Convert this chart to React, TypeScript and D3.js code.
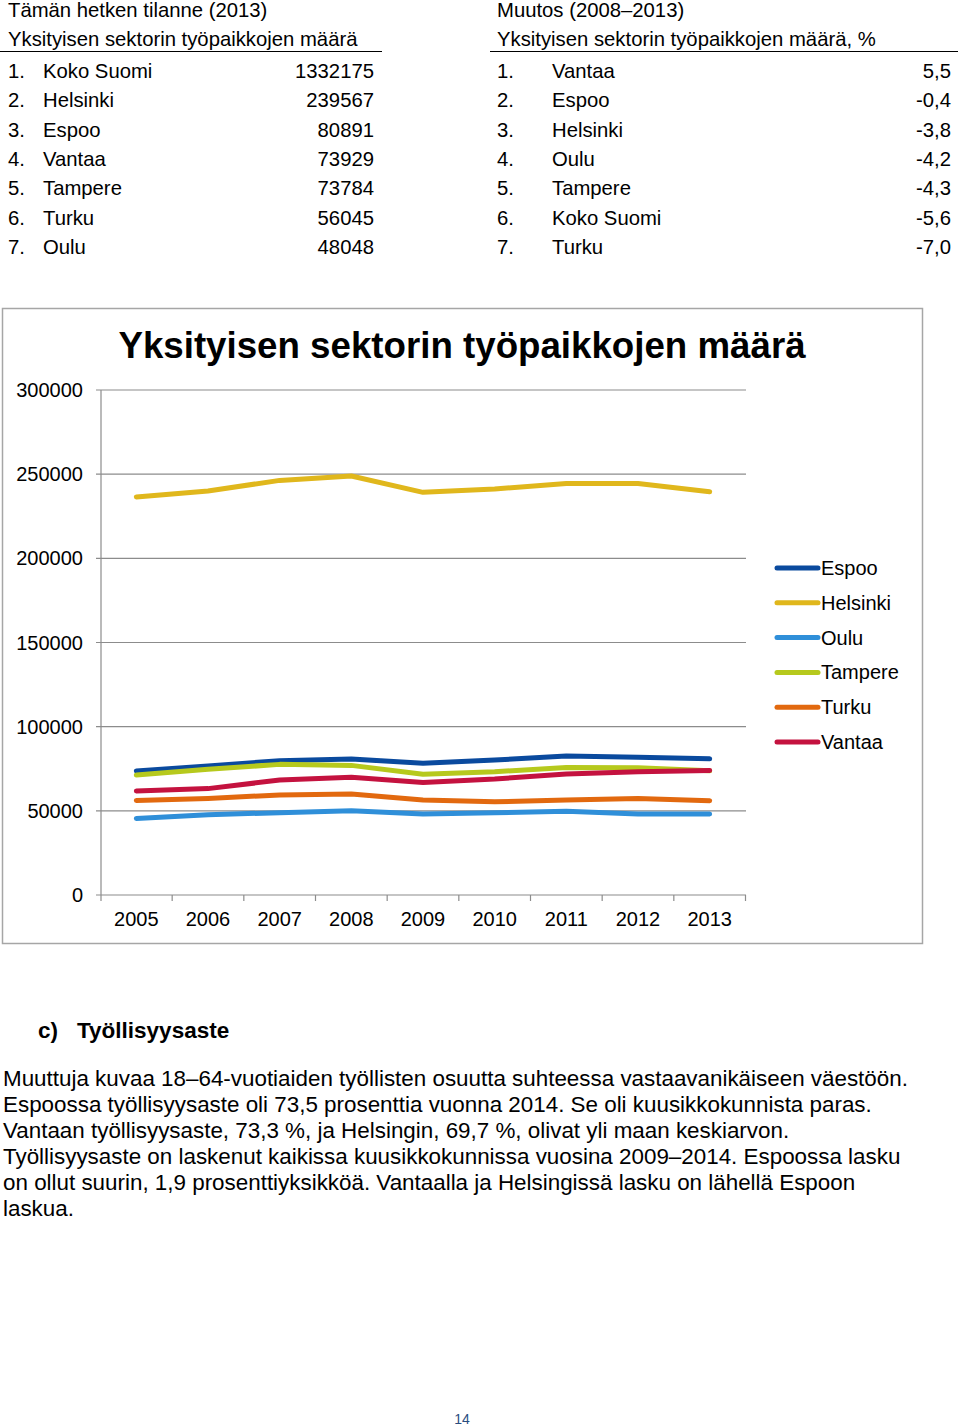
import React from "react";
import * as d3 from "d3";

// Top tables
const leftRank = ["Koko Suomi", "Helsinki", "Espoo", "Vantaa", "Tampere", "Turku", "Oulu"];
const leftValues = ["1332175", "239567", "80891", "73929", "73784", "56045", "48048"];
const rightRank = ["Vantaa", "Espoo", "Helsinki", "Oulu", "Tampere", "Koko Suomi", "Turku"];
const rightValues = ["5,5", "-0,4", "-3,8", "-4,2", "-4,3", "-5,6", "-7,0"];

// Chart data
const years = ["2005", "2006", "2007", "2008", "2009", "2010", "2011", "2012", "2013"];
const espoo = [73700, 76600, 79800, 80800, 78200, 80200, 82600, 81800, 80891];
const helsinki = [236500, 240000, 246300, 248900, 239200, 241200, 244500, 244500, 239567];
const oulu = [45500, 47700, 48900, 50100, 48100, 48900, 49700, 48100, 48048];
const tampere = [71300, 74700, 77600, 77000, 71700, 73200, 75800, 75600, 73784];
const turku = [56200, 57400, 59400, 60000, 56400, 55400, 56400, 57400, 56045];
const vantaa = [61800, 63200, 68300, 69900, 66900, 68900, 71900, 73200, 73929];
const yTicks = [0, 50000, 100000, 150000, 200000, 250000, 300000];

const series = [
  { name: "Espoo", values: espoo, color: "#0a4a9e" },
  { name: "Helsinki", values: helsinki, color: "#e0b71c" },
  { name: "Oulu", values: oulu, color: "#2f8fd9" },
  { name: "Tampere", values: tampere, color: "#b6c91d" },
  { name: "Turku", values: turku, color: "#e2690f" },
  { name: "Vantaa", values: vantaa, color: "#c4123f" },
];

const paragraph = [
  "Muuttuja kuvaa 18–64-vuotiaiden työllisten osuutta suhteessa vastaavanikäiseen väestöön.",
  "Espoossa työllisyysaste oli 73,5 prosenttia vuonna 2014. Se oli kuusikkokunnista paras.",
  "Vantaan työllisyysaste, 73,3 %, ja Helsingin, 69,7 %, olivat yli maan keskiarvon.",
  "Työllisyysaste on laskenut kaikissa kuusikkokunnissa vuosina 2009–2014. Espoossa lasku",
  "on ollut suurin, 1,9 prosenttiyksikköä. Vantaalla ja Helsingissä lasku on lähellä Espoon",
  "laskua.",
];

const FONT = "'Liberation Sans', Arial, sans-serif";

const App: React.FC = () => {
  const plot = { left: 101, right: 746, top: 390, bottom: 895 };
  const x = d3.scaleBand().domain(years).range([plot.left - 0.5, plot.right - 0.5]);
  const y = d3.scaleLinear().domain([0, 300000]).range([plot.bottom, plot.top]);
  const line = d3
    .line<number>()
    .x((_, i) => (x(years[i]) as number) + x.bandwidth() / 2)
    .y((d) => y(d));

  const rowY = (i: number) => 78 + i * 29.3;

  return (
    <svg
      width={960}
      height={1427}
      style={{ position: "absolute", left: 0, top: 0, background: "#fff" }}
      fontFamily={FONT}
    >
      <rect width={960} height={1427} fill="#fff" />

      {/* Left table */}
      <g fontSize={20.3} fill="#000">
        <text x={8} y={17}>Tämän hetken tilanne (2013)</text>
        <text x={8} y={46}>Yksityisen sektorin työpaikkojen määrä</text>
        <line x1={0} x2={382} y1={51.5} y2={51.5} stroke="#000" strokeWidth={1.2} />
        {leftRank.map((n, i) => (
          <g key={n}>
            <text x={8} y={rowY(i)}>{i + 1}.</text>
            <text x={43} y={rowY(i)}>{n}</text>
            <text x={374} y={rowY(i)} textAnchor="end">{leftValues[i]}</text>
          </g>
        ))}
      </g>

      {/* Right table */}
      <g fontSize={20.3} fill="#000">
        <text x={497} y={17}>Muutos (2008–2013)</text>
        <text x={497} y={46}>Yksityisen sektorin työpaikkojen määrä, %</text>
        <line x1={490} x2={958} y1={51.5} y2={51.5} stroke="#000" strokeWidth={1.2} />
        {rightRank.map((n, i) => (
          <g key={n}>
            <text x={497} y={rowY(i)}>{i + 1}.</text>
            <text x={552} y={rowY(i)}>{n}</text>
            <text x={951} y={rowY(i)} textAnchor="end">{rightValues[i]}</text>
          </g>
        ))}
      </g>

      {/* Chart box */}
      <rect x={2.5} y={308.5} width={920} height={635} fill="#fff" stroke="#a6a6a6" strokeWidth={1.5} />
      <text x={462} y={358} textAnchor="middle" fontSize={36.7} fontWeight="bold">
        Yksityisen sektorin työpaikkojen määrä
      </text>

      {/* Gridlines and y axis */}
      {yTicks.map((t) => (
        <g key={t}>
          <line x1={96} x2={plot.right} y1={y(t)} y2={y(t)} stroke="#8c8c8c" strokeWidth={1.2} />
          <text x={83} y={y(t) + 7} textAnchor="end" fontSize={20}>
            {t}
          </text>
        </g>
      ))}
      <line x1={plot.left} x2={plot.left} y1={plot.top} y2={plot.bottom + 6} stroke="#8c8c8c" strokeWidth={1.2} />

      {/* x axis ticks and labels */}
      {years.map((yr) => (
        <line
          key={"t" + yr}
          x1={(x(yr) as number) + x.bandwidth()}
          x2={(x(yr) as number) + x.bandwidth()}
          y1={plot.bottom}
          y2={plot.bottom + 6}
          stroke="#8c8c8c"
          strokeWidth={1.2}
        />
      ))}
      {years.map((yr) => (
        <text
          key={yr}
          x={(x(yr) as number) + x.bandwidth() / 2}
          y={926}
          textAnchor="middle"
          fontSize={20}
        >
          {yr}
        </text>
      ))}

      {/* Lines */}
      {series.map((s) => (
        <path
          key={s.name}
          d={line(s.values) as string}
          fill="none"
          stroke={s.color}
          strokeWidth={5}
          strokeLinecap="round"
          strokeLinejoin="round"
        />
      ))}

      {/* Legend */}
      {series.map((s, i) => {
        const ly = 568 + i * 34.8;
        return (
          <g key={"l" + s.name}>
            <line x1={777} x2={818} y1={ly} y2={ly} stroke={s.color} strokeWidth={5} strokeLinecap="round" />
            <text x={821} y={ly + 7} fontSize={20}>
              {s.name}
            </text>
          </g>
        );
      })}

      {/* Text section */}
      <g fontSize={22.5} fontWeight="bold">
        <text x={38} y={1038}>c)</text>
        <text x={77} y={1038}>Työllisyysaste</text>
      </g>
      {paragraph.map((p, i) => (
        <text key={i} x={3} y={1086 + i * 26} fontSize={22.4}>
          {p}
        </text>
      ))}

      <text x={462} y={1424} textAnchor="middle" fontSize={14} fill="#2a4d7f">
        14
      </text>
    </svg>
  );
};

export default App;
